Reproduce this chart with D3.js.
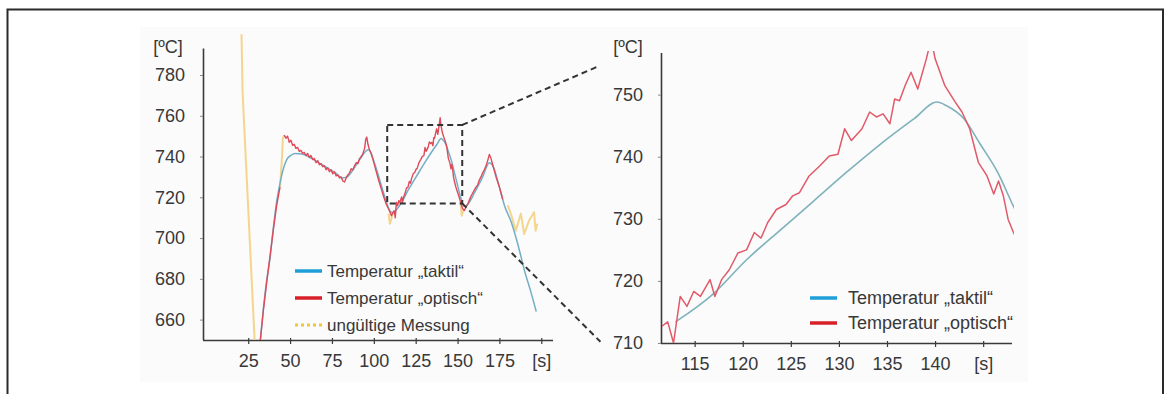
<!DOCTYPE html>
<html><head><meta charset="utf-8">
<script src="https://cdn.jsdelivr.net/npm/d3@7"></script>
<style>
html,body{margin:0;padding:0;background:#fff;}
svg{display:block;font-family:"Liberation Sans",Arial,sans-serif;}
</style></head>
<body>
<script>
// ---- data ----
const leftXTicks = [25, 50, 75, 100, 125, 150, 175, 200];
const leftYTicks = [660, 680, 700, 720, 740, 760, 780];
const rightXTicks = [115, 120, 125, 130, 135, 140, 145];
const rightYTicks = [710, 720, 730, 740, 750];
const xUnitLabel = "[s]";
const yUnitLabel = "[ºC]";
const seriesNames = ["Temperatur „taktil“", "Temperatur „optisch“", "ungültige Messung"];

// tactile temperature [t, °C]
const taktil = [[32,648],[34,665],[36,679],[38,690],[40,705],[42,718],[44,727],[46,734],[48,738.5],[50,740.3],[53,741.5],[57,741.3],[62,739.5],[67,737],[72,734.5],[77,732],[81,729.5],[84,730],[88,734],[92,739],[95,742.5],[97,743.5],[99,740],[103,730],[107,719],[110,713],[112,712.5],[113,713.4],[117,718],[120.4,723.4],[124,728.3],[127.4,732.9],[130.8,737.5],[134.3,742],[137.8,746.1],[140.2,748.8],[141.2,748.2],[143,746.1],[144.7,742],[146.5,737.5],[148,732.5],[150,726],[152,719.5],[154,715.5],[156,716.5],[160,722],[165,730],[169,737],[171,735.5],[175,725],[178,716],[182,708],[186,697],[190,684],[194,673],[197,664]];

// optical temperature, first valid segment
const optischA = [[32,648],[34,664],[36,678],[38,691],[40,704],[42,716],[44,725]];
// optical temperature, second valid segment
const optischB = [[46.5,750.5],[47.5,749],[48.5,750],[49.5,747],[50.5,748],[51.5,745.5],[52.5,746],[53.5,744],[54.5,744.5],[55.5,742.5],[56.5,743],[57.5,741.5],[58.5,742],[59.5,740.5],[60.5,741.5],[61.5,739.5],[62.5,740.5],[63.5,738.5],[64.5,739],[65.5,737],[66.5,738],[67.5,736],[68.5,736.5],[69.5,735],[70.5,735.5],[71.5,733.5],[72.5,734.5],[73.5,732.5],[74.5,733.5],[75.5,731.5],[76.5,732.5],[77.5,730.5],[78.5,731],[79.5,729.5],[80.5,730],[81.5,728],[82.5,727.5],[83.5,729.5],[84.5,731],[85.5,732],[86.5,734],[87.5,733.5],[88.5,735.5],[89.5,737],[90.5,736.5],[91.5,739],[92.5,740],[93.5,741.5],[94.5,744],[95.2,748.5],[95.8,749.5],[96.5,746],[97.5,743],[98.5,741.5],[100,737],[101.5,732.5],[103,728],[104.5,724],[106,720],[107.5,716.5],[109,714],[110.5,711],[111.5,712.6],[112.2,713.4],[112.8,710],[113.5,717.5],[114.2,715.9],[114.9,718.3],[115.6,717.5],[116.6,720.2],[117.1,717.5],[117.8,720.2],[118.6,721.8],[119.5,724.5],[120.4,725],[121.2,727.8],[121.9,726.9],[122.6,729.4],[123.5,731.5],[124.5,732.3],[125.2,733.7],[125.9,734.2],[126.9,736.9],[128,738.5],[129,740.1],[129.9,740.4],[130.6,744.5],[131.3,742.6],[132.4,744.5],[133.2,747.2],[133.9,746.4],[134.6,746.9],[135.3,745.3],[135.8,749.3],[136.3,749],[136.9,751.5],[137.5,753.6],[138.2,750.9],[139.1,755.8],[139.6,759],[140,755.8],[141,751.5],[142.1,748.8],[142.8,747.2],[143.6,744.5],[144.5,739.1],[145.4,736.9],[146.1,734],[146.6,736.1],[147.1,733.7],[147.6,729.9],[148.1,728],[149,725],[150,722.5],[151,720],[152,717],[153,714.5],[154,713.5],[155,715],[156,716.5],[157,718.5],[158,720.5],[159,722],[160,723.5],[161,725],[162,726],[163,728.5],[164,730],[165,732],[166,733.5],[167,735.5],[168,738],[169,741],[170,739],[171,736],[172,733],[173,730],[174,727.5],[175,725],[176,722],[177,719]];

// invalid measurement segments
const ungueltigA = [[21,800],[21.6,772],[29,647]];
const ungueltigB = [[44,725],[45,737],[45.7,749],[46.5,750.5]];
const ungueltigC = [[108.8,712],[109.6,707],[110.5,709.5],[111.2,712]];
const ungueltigD = [[151.8,716.5],[152.5,711],[153.4,713.5]];
const ungueltigE = [[180,716],[181.8,712],[184.8,703.6],[187.8,712],[189.8,702],[192.7,708.6],[195.7,712.7],[196.6,703.6],[197.6,707]];

// zoom window (left chart coords) and connector ends (right chart coords)
const zoomWindow = [[108, 717], [152.8, 755.5]];
const connectorEnds = [[104.9, 754.5], [105.2, 710.2]];

// ---- drawing ----
const W = 1168, H = 394;
const svg = d3.select("body").append("svg").attr("width", W).attr("height", H);

const cBlue = "#74adc6", cRed = "#df4a58", cYellow = "#f4d58e";
const lgBlue = "#1e9fd8", lgRed = "#d8202a", lgYellow = "#f0c830";
const txt = "#383838", axisCol = "#3a3a3a";

// outer frame and faint panel
svg.append("rect").attr("x", 140).attr("y", 27).attr("width", 888).attr("height", 355).attr("fill", "#fbfbfb");
svg.append("path").attr("d", "M7.5,400V9.5H1163V400").attr("fill", "none").attr("stroke", "#2a2a2a").attr("stroke-width", 2);

// scales
const xL = d3.scaleLinear().domain([-2, 207]).range([203, 553]);
const yL = d3.scaleLinear().domain([650, 793]).range([340, 48.5]);
const xR = d3.scaleLinear().domain([111.5, 148]).range([661, 1012]);
const yR = d3.scaleLinear().domain([710, 756.7]).range([343, 53]);

const defs = svg.append("defs");
defs.append("clipPath").attr("id", "clipL").append("rect").attr("x", 203).attr("y", 20).attr("width", 352).attr("height", 320);
defs.append("clipPath").attr("id", "clipR").append("rect").attr("x", 662).attr("y", 51).attr("width", 352).attr("height", 292);

function drawAxes(x, y, xt, yt, xLab) {
  const gx = svg.append("g").attr("transform", `translate(0,${y.range()[0]})`)
    .call(d3.axisBottom(x).tickValues(xt).tickSize(4).tickPadding(10)
      .tickFormat(d => d === xt[xt.length - 1] ? xLab : d));
  gx.select(".domain").attr("d", `M${x.range()[0]},0.5H${x.range()[1]}`).attr("stroke", axisCol).attr("stroke-width", 1.6);
  gx.selectAll(".tick line").attr("stroke", axisCol).attr("stroke-width", 1.2).attr("y1", -2);
  gx.selectAll(".tick text").attr("fill", txt).attr("font-size", 18).attr("font-family", '"Liberation Sans",Arial,sans-serif');
  const gy = svg.append("g").attr("transform", `translate(${x.range()[0]},0)`)
    .call(d3.axisLeft(y).tickValues(yt).tickSize(3).tickPadding(15));
  gy.select(".domain").attr("d", `M0.5,${y.range()[1]}V${y.range()[0]}`).attr("stroke", axisCol).attr("stroke-width", 1.6);
  gy.selectAll(".tick line").attr("stroke", "#888").attr("stroke-width", 1);
  gy.selectAll(".tick text").attr("fill", txt).attr("font-size", 18).attr("font-family", '"Liberation Sans",Arial,sans-serif');
}

drawAxes(xL, yL, leftXTicks, leftYTicks, xUnitLabel);
drawAxes(xR, yR, rightXTicks, rightYTicks, xUnitLabel);

svg.append("text").attr("x", 168).attr("y", 53).attr("text-anchor", "middle").attr("font-size", 18).attr("fill", txt).text(yUnitLabel);
svg.append("text").attr("x", 628).attr("y", 53).attr("text-anchor", "middle").attr("font-size", 18).attr("fill", txt).text(yUnitLabel);

// left chart lines
const lineL = d3.line().x(d => xL(d[0])).y(d => yL(d[1]));
const smoothL = d3.line().x(d => xL(d[0])).y(d => yL(d[1])).curve(d3.curveMonotoneX);
const gL = svg.append("g").attr("clip-path", "url(#clipL)");
[ungueltigA, ungueltigB, ungueltigC, ungueltigD, ungueltigE].forEach(s =>
  gL.append("path").attr("d", lineL(s)).attr("fill", "none").attr("stroke", cYellow).attr("stroke-width", 2).attr("stroke-linejoin", "round"));
gL.append("path").attr("d", smoothL(taktil)).attr("fill", "none").attr("stroke", cBlue).attr("stroke-width", 1.5);
[optischA, optischB].forEach(s =>
  gL.append("path").attr("d", lineL(s)).attr("fill", "none").attr("stroke", cRed).attr("stroke-width", 1.4).attr("stroke-linejoin", "round"));

// zoom window and connectors
const dash = "6,4";
svg.append("rect")
  .attr("x", xL(zoomWindow[0][0])).attr("y", yL(zoomWindow[1][1]))
  .attr("width", xL(zoomWindow[1][0]) - xL(zoomWindow[0][0]))
  .attr("height", yL(zoomWindow[0][1]) - yL(zoomWindow[1][1]))
  .attr("fill", "none").attr("stroke", "#333").attr("stroke-width", 2).attr("stroke-dasharray", dash);
svg.append("line").attr("x1", xL(zoomWindow[1][0])).attr("y1", yL(zoomWindow[1][1]))
  .attr("x2", xR(connectorEnds[0][0])).attr("y2", yR(connectorEnds[0][1]))
  .attr("stroke", "#333").attr("stroke-width", 2).attr("stroke-dasharray", dash);
svg.append("line").attr("x1", xL(zoomWindow[1][0])).attr("y1", yL(zoomWindow[0][1]))
  .attr("x2", xR(connectorEnds[1][0])).attr("y2", yR(connectorEnds[1][1]))
  .attr("stroke", "#333").attr("stroke-width", 2).attr("stroke-dasharray", dash);

// right chart lines
const lineR = d3.line().x(d => xR(d[0])).y(d => yR(d[1]));
const smoothR = d3.line().x(d => xR(d[0])).y(d => yR(d[1])).curve(d3.curveMonotoneX);
const gR = svg.append("g").attr("clip-path", "url(#clipR)");
gR.append("path").attr("d", smoothR(taktil.filter(d => d[0] >= 113 && d[0] <= 150)))
  .attr("fill", "none").attr("stroke", "#7fb2bc").attr("stroke-width", 1.6);
gR.append("path").attr("d", lineR(optischB.filter(d => d[0] >= 110 && d[0] <= 150)))
  .attr("fill", "none").attr("stroke", "#e05a6a").attr("stroke-width", 1.5).attr("stroke-linejoin", "round");

// legends
function legend(x0, y0, step, n, fs, gap) {
  const cols = [lgBlue, lgRed, lgYellow];
  for (let i = 0; i < n; i++) {
    const y = y0 + i * step;
    svg.append("line").attr("x1", x0).attr("x2", x0 + 27).attr("y1", y).attr("y2", y)
      .attr("stroke", cols[i]).attr("stroke-width", i === 2 ? 3 : 3.5)
      .attr("stroke-dasharray", i === 2 ? "3,3" : null);
    svg.append("text").attr("x", x0 + 27 + gap).attr("y", y).attr("dy", "0.35em")
      .attr("font-size", fs).attr("fill", txt).text(seriesNames[i]);
  }
}
legend(295, 271, 27, 3, 17, 5);
legend(810, 298, 25, 2, 18, 11);
</script>
</body></html>
